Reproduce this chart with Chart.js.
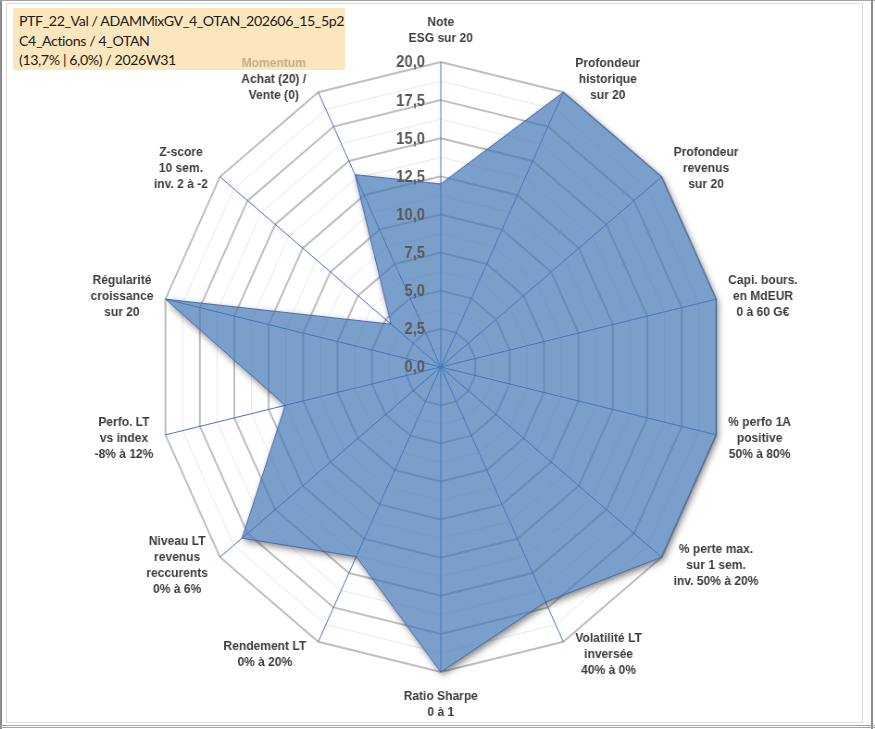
<!DOCTYPE html>
<html>
<head>
<meta charset="utf-8">
<script src="https://cdn.jsdelivr.net/npm/chart.js@4/dist/chart.umd.min.js"></script>
<style>
  html, body { margin: 0; padding: 0; background: #ffffff; }
  #page { position: absolute; left: 0; top: 0; width: 875px; height: 729px; overflow: hidden; background: #fff; }
  #frameL { position: absolute; left: 0; top: 0; width: 2px; height: 729px; background: #8c8c8c; }
  #frameT { position: absolute; left: 0; top: 0; width: 875px; height: 1px; background: #a6a6a6; }
  #frameR { position: absolute; left: 871px; top: 0; width: 2px; height: 729px; background: #8c8c8c; }
  #inner { position: absolute; left: 6px; top: 3px; width: 855px; height: 718px; border: 1px solid #dcdcdc; border-bottom-color: #e6dce6; }
  #green1 { position: absolute; left: 0; top: 725px; width: 875px; height: 1px; background: #8fb08f; }
  #green2 { position: absolute; left: 0; top: 727px; width: 875px; height: 1px; background: #8fb08f; }
  #wrap { position: absolute; left: 0; top: 0; width: 945px; height: 729px; transform: scaleX(0.926); transform-origin: 0 0; }
  #title { position: absolute; left: 13px; top: 8px; width: 332px; height: 62px; background: #fce6be;
           font-family: Lato, "Open Sans", sans-serif; font-size: 14.2px; letter-spacing: -0.4px; line-height: 19.5px; color: #1a1a1a;
           padding: 3px 0 0 6px; box-sizing: border-box; white-space: nowrap; }
</style>
</head>
<body>
<div id="page">
  <div id="frameL"></div><div id="frameT"></div><div id="frameR"></div>
  <div id="inner"></div>
  <div id="green1"></div><div id="green2"></div>
  <div id="title"></div>
  <div id="wrap"><canvas id="c" width="945" height="729"></canvas></div>
</div>
<script>
// ---- data ----
const titleLines = [
  "PTF_22_Val / ADAMMixGV_4_OTAN_202606_15_5p2",
  "C4_Actions / 4_OTAN",
  "(13,7% | 6,0%) / 2026W31"
];
const categories = [
  ["Note", "ESG sur 20"],
  ["Profondeur", "historique", "sur 20"],
  ["Profondeur", "revenus", "sur 20"],
  ["Capi. bours.", "en MdEUR", "0 à 60 G€"],
  ["% perfo 1A", "positive", "50% à 80%"],
  ["% perte max.", "sur 1 sem.", "inv. 50% à 20%"],
  ["Volatilité LT", "inversée", "40% à 0%"],
  ["Ratio Sharpe", "0 à 1"],
  ["Rendement LT", "0% à 20%"],
  ["Niveau LT", "revenus", "reccurents", "0% à 6%"],
  ["Perfo. LT", "vs index", "-8% à 12%"],
  ["Régularité", "croissance", "sur 20"],
  ["Z-score", "10 sem.", "inv. 2 à -2"],
  ["Momentum", "Achat (20) /", "Vente (0)"]
];
const values = [12.0, 20, 20, 20, 20, 20, 17.1, 20, 13.8, 18.0, 11.3, 20, 4.5, 14.0];
const tickLabels = ["0,0", "2,5", "5,0", "7,5", "10,0", "12,5", "15,0", "17,5", "20,0"];
const tickValues = [0, 2.5, 5, 7.5, 10, 12.5, 15, 17.5, 20];

document.getElementById('title').innerHTML = titleLines.map(t => '<div>' + t + '</div>').join('');

const LABEL_FONT = 'bold 13px "Liberation Sans", Arial, sans-serif';
const LINE_H = 16;

const shadowPlugin = {
  id: 'outerShadow',
  beforeDatasetsDraw(chart) {
    const meta = chart.getDatasetMeta(0);
    const pts = meta.data.map(p => ({ x: p.x, y: p.y }));
    const ctx = chart.ctx;
    const OFF = 5000;
    ctx.save();
    ctx.beginPath();
    ctx.rect(0, 0, chart.width, chart.height);
    pts.forEach((p, i) => i ? ctx.lineTo(p.x, p.y) : ctx.moveTo(p.x, p.y));
    ctx.closePath();
    ctx.clip('evenodd');
    ctx.shadowColor = 'rgba(0,0,0,0.5)';
    ctx.shadowBlur = 7;
    ctx.shadowOffsetX = OFF + 2;
    ctx.shadowOffsetY = 3;
    ctx.beginPath();
    pts.forEach((p, i) => i ? ctx.lineTo(p.x - OFF, p.y) : ctx.moveTo(p.x - OFF, p.y));
    ctx.closePath();
    ctx.fillStyle = '#000';
    ctx.fill();
    ctx.restore();
  }
};

const labelPlugin = {
  id: 'labelsAndTicks',
  afterDatasetsDraw(chart) {
    const ctx = chart.ctx;
    const scale = chart.scales.r;
    // tick labels
    ctx.save();
    ctx.font = 'bold 16px "Liberation Sans", Arial, sans-serif';
    ctx.fillStyle = '#595959';
    ctx.textAlign = 'right';
    ctx.textBaseline = 'middle';
    tickValues.forEach((v, i) => {
      const y = scale.yCenter - scale.getDistanceFromCenterForValue(v);
      ctx.fillText(tickLabels[i], scale.xCenter - 17, y + 1);
    });
    ctx.restore();
    // point labels
    ctx.save();
    ctx.font = LABEL_FONT;
    ctx.textAlign = 'center';
    ctx.textBaseline = 'middle';
    const n = categories.length;
    categories.forEach((lines, i) => {
      const th = i * 2 * Math.PI / n;
      const s = Math.sin(th), c = Math.cos(th);
      const v = scale.getPointPosition(i, scale.drawingArea);
      const w = Math.max(...lines.map(l => ctx.measureText(l).width));
      const h = lines.length * LINE_H;
      let cx, cy;
      if (Math.abs(s) < 0.01) {
        cx = v.x;
        cy = v.y - c * (16 + h / 2);
      } else {
        cx = v.x + Math.sign(s) * (13 + w / 2);
        cy = v.y - c * 14;
      }
      lines.forEach((l, j) => {
        ctx.fillStyle = (i === 13 && j === 0) ? '#bdae88' : '#3c3c3c';
        ctx.fillText(l, cx, cy - h / 2 + LINE_H / 2 + j * LINE_H);
      });
    });
    ctx.restore();
  }
};

new Chart(document.getElementById('c'), {
  type: 'radar',
  data: {
    labels: categories.map(l => l.join(' ')),
    datasets: [{
      data: values,
      backgroundColor: 'rgba(66,118,181,0.7)',
      borderColor: 'rgba(60,100,170,0.9)',
      borderWidth: 1,
      pointRadius: 0,
      pointHoverRadius: 0,
      fill: true
    }]
  },
  options: {
    responsive: false,
    animation: false,
    devicePixelRatio: 1,
    layout: { padding: { left: 171, right: 164, top: 62, bottom: 57 } },
    plugins: { legend: { display: false }, tooltip: { enabled: false } },
    scales: {
      r: {
        min: 0, max: 20,
        ticks: { display: false, stepSize: 1.25 },
        pointLabels: { display: false },
        grid: {
          color: ctx => (Math.abs(ctx.tick.value / 2.5 - Math.round(ctx.tick.value / 2.5)) < 1e-6) ? '#bebebe' : '#e8e8e8',
          lineWidth: ctx => (Math.abs(ctx.tick.value / 2.5 - Math.round(ctx.tick.value / 2.5)) < 1e-6) ? 2 : 1
        },
        angleLines: { color: '#4472c4', lineWidth: 1 }
      }
    }
  },
  plugins: [shadowPlugin, labelPlugin]
});
</script>
</body>
</html>
